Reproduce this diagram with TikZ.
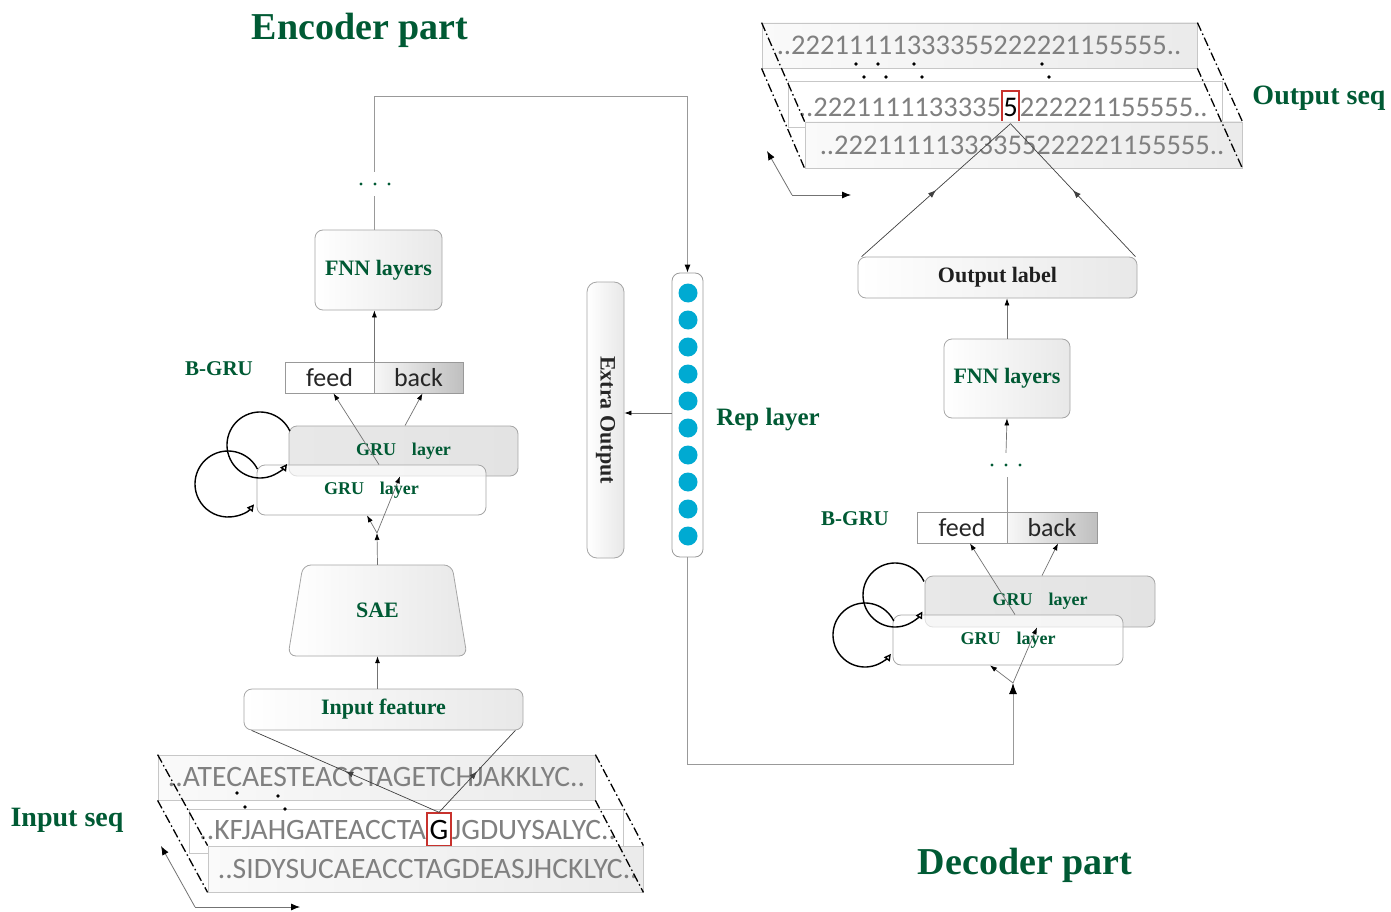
\documentclass[tikz,border=0pt]{standalone}
\usepackage{fontspec}
\setmainfont{Liberation Serif}
\newfontfamily\calfont{Carlito}
\usetikzlibrary{arrows.meta,decorations.markings,calc}
\definecolor{dgreen}{RGB}{0,90,52}
\definecolor{cyanball}{RGB}{0,170,210}
\definecolor{hired}{RGB}{200,50,45}
\begin{document}
\begin{tikzpicture}[x=1pt,y=-1pt,
 rbox/.style={draw=black!35, line width=0.8pt, rounded corners=8pt, left color=white, right color=black!9, inner sep=0pt},
 lbl/.style={font=\bfseries\fontsize{22}{24}\selectfont, text=dgreen},
 grut/.style={font=\bfseries\fontsize{18}{20}\selectfont, text=dgreen},
 seqbox/.style={draw=black!22, line width=0.8pt, left color=black!2, right color=black!8, inner sep=0pt},
 seqt/.style={font=\calfont\fontsize{28.5}{30}\selectfont, text=black!50, inner sep=0pt},
 seql/.style={font=\calfont\fontsize{29.6}{31}\selectfont, text=black!50, inner sep=0pt},
 hlbox/.style={draw=hired, line width=1.4pt, inner sep=0pt, text=black},
 ddline/.style={line width=1.3pt, dash pattern=on 9pt off 3pt on 1.5pt off 3pt},
 connarr/.style={draw=black!55, line width=0.7pt, -{Latex[length=7pt,width=5pt,color=black]}},
 gline/.style={draw=black!40, line width=0.9pt},
 gconn/.style={draw=black!40, line width=0.9pt, -{Latex[length=8pt,width=6pt,color=black]}},
 midarr/.style={draw=black!75, line width=0.7pt, postaction={decorate}, decoration={markings, mark=at position 0.5 with {\arrow{Latex[length=8pt,width=6pt]}}}},
 axarr/.style={draw=black!55, line width=0.8pt, -{Latex[length=9pt,width=7pt,color=black]}},
 loopc/.style={line width=1.4pt, -{Triangle[length=7pt,width=7pt,fill=white]}},
 fbbox/.style={draw=black!40, line width=0.8pt, minimum width=89pt, minimum height=31pt, font=\calfont\fontsize{26}{28}\selectfont, text=black!85, inner sep=0pt},
 dotn/.style={minimum width=40pt, minimum height=24pt, inner sep=0pt},
 ttl/.style={font=\bfseries\fontsize{38}{40}\selectfont, text=dgreen},
 sttl/.style={font=\bfseries\fontsize{28}{30}\selectfont, text=dgreen}
]
\fill[white] (0,0) rectangle (1391,912);
\useasboundingbox (0,0) rectangle (1391,912);

% titles
\node[ttl] (enctitle) at (360,30) {Encoder part};
\node[ttl] (dectitle) at (1025,865) {Decoder part};
\node[sttl] (inseq) at (67,820) {Input seq};
\node[sttl] (outseq) at (1319,98) {Output seq};
\node[lbl, font=\bfseries\fontsize{21}{23}\selectfont] (ebgru) at (219,369) {B-GRU};
\node[lbl, font=\bfseries\fontsize{21}{23}\selectfont] (dbgru) at (855,519) {B-GRU};
\node[lbl, font=\bfseries\fontsize{25}{27}\selectfont] (replbl) at (768,420) {Rep layer};

% ---------------- Encoder ----------------
\node[rbox, minimum width=127pt, minimum height=80pt, lbl] (efnn) at (378.5,270) {FNN layers};
\node[dotn] (edots) at (374,184) {};
\fill[dgreen] (361,184) circle (1.7pt) (375,184) circle (1.7pt) (389,184) circle (1.7pt);
\coordinate (etop) at (374,96);

\node[fbbox, fill=white] (efeed) at (329.5,377.5) {feed};
\node[fbbox, left color=black!3, right color=black!25] (eback) at (418.5,377.5) {back};

\node[rbox, left color=black!9, right color=black!11, minimum width=229pt, minimum height=50pt, grut] (egruB) at (403.5,451) {GRU\hspace{16pt}layer};
\node[draw=black!35, line width=0.8pt, rounded corners=8pt, fill=white, fill opacity=0.65, text opacity=1, minimum width=229pt, minimum height=50pt, grut] (egruF) at (371.5,490) {GRU\hspace{16pt}layer};
\coordinate (esplit) at (377,533);

\path[draw=black!35, line width=0.8pt, rounded corners=8pt, left color=white, right color=black!9] (303,565) -- (452,565) -- (467,656) -- (288,656) -- cycle;
\node[lbl, minimum width=149pt, minimum height=91pt] (sae) at (377.5,610.5) {SAE};

\node[rbox, minimum width=279pt, minimum height=41pt, lbl] (einf) at (383.5,709.5) {Input feature};

% input sequences
\node[seqbox, minimum width=437pt, minimum height=45pt] (r1) at (376.5,777.5) {};
\node[seql, anchor=west] (t1) at ([xshift=10pt]r1.west) {..ATECAESTEACCTAGETCHJAKKLYC..};
\node[draw=black!22, line width=0.8pt, fill=white, minimum width=434pt, minimum height=44pt, inner sep=0pt] (r2) at (406,831) {};
\node[hlbox, font=\calfont\fontsize{29.6}{31}\selectfont, minimum width=24pt, minimum height=33pt] (gbox) at (439,829.5) {G};
\node[seql, anchor=base east] (t2a) at (gbox.base west) {..KFJAHGATEACCTA};
\node[seql, anchor=base west] (t2b) at (gbox.base east) {JGDUYSALYC..};
\node[seqbox, minimum width=435pt, minimum height=46pt] (r3) at (425.5,869) {};
\node[seql, anchor=west] (t3) at ([xshift=10pt]r3.west) {..SIDYSUCAEACCTAGDEASJHCKLYC..};
\draw[ddline] (r1.north west) -- (r3.north west);
\draw[ddline] (r1.south west) -- (r3.south west);
\draw[ddline] (r1.north east) -- (r3.north east);
\draw[ddline] (r1.south east) -- (r3.south east);
\fill (237,793) circle (1.8pt) (278,796) circle (1.8pt) (245,807) circle (1.8pt) (285,809) circle (1.8pt);

\coordinate (ax1) at (195,907);
\coordinate (ax1u) at (161,846);
\coordinate (ax1r) at (300,907);
\draw[axarr] (ax1) -- (ax1u);
\draw[axarr] (ax1) -- (ax1r);

% encoder connectors
\draw[midarr] (gbox.north) -- ([xshift=8pt]einf.south west);
\draw[midarr] (gbox.north) -- ([xshift=-8pt]einf.south east);
\draw[connarr] (sae.south |- einf.north) -- (sae.south);
\draw[connarr] (sae.north) -- (esplit);
\draw[connarr] (esplit) -- ([xshift=-4.5pt]egruF.south);
\draw[connarr] (esplit) -- ([xshift=-3.5pt]egruB.south);
\draw[connarr] ([xshift=7.5pt]egruF.north) -- ([xshift=4pt]efeed.south);
\draw[connarr] ([xshift=1.5pt]egruB.north) -- ([xshift=4pt]eback.south);
\draw[connarr] (efeed.north east) -- (efeed.north east |- efnn.south);
\draw[gline] (edots.south |- efnn.north) -- (edots.south);

\draw[loopc] (260,445) ++(-25:33) arc[start angle=-25, end angle=-325, radius=33];
\draw[loopc] (228,484) ++(-27:33) arc[start angle=-27, end angle=-322, radius=33];

% ---------------- Middle ----------------
\node[draw=black!40, line width=0.8pt, rounded corners=8pt, fill=white, minimum width=31pt, minimum height=284pt, inner sep=0pt] (rep) at (687.5,415) {};
\foreach \i in {0,...,9} \fill[cyanball] (688,293+27*\i) circle (9.5pt);
\node[rbox, rounded corners=10pt, minimum width=37pt, minimum height=276pt] (extra) at (605.5,420) {};
\node[lbl, text=black!85, rotate=-90] (extxt) at (extra) {Extra Output};

\draw[gconn] (edots.north) -- (etop) -| (rep.north);
\draw[connarr] ([yshift=2pt]rep.west) -- ([yshift=2pt]rep.west -| extra.east);

% ---------------- Decoder ----------------
\node[rbox, minimum width=279pt, minimum height=41pt, lbl, text=black!88] (olab) at (997.5,277.5) {Output label};
\node[rbox, minimum width=126pt, minimum height=79pt, lbl] (dfnn) at (1007,378.5) {FNN layers};
\node[dotn] (ddots) at (1006,465) {};
\fill[dgreen] (992,465) circle (1.7pt) (1006,465) circle (1.7pt) (1020,465) circle (1.7pt);
\node[fbbox, fill=white, minimum width=90pt] (dfeed) at (962,527.5) {feed};
\node[fbbox, minimum width=90pt, left color=black!3, right color=black!25] (dback) at (1052,527.5) {back};
\node[rbox, left color=black!9, right color=black!11, minimum width=230pt, minimum height=51pt, grut] (dgruB) at (1040,601.5) {GRU\hspace{16pt}layer};
\node[draw=black!35, line width=0.8pt, rounded corners=8pt, fill=white, fill opacity=0.65, text opacity=1, minimum width=230pt, minimum height=50pt, grut] (dgruF) at (1008,640) {GRU\hspace{16pt}layer};
\coordinate (dsplit) at (1013,683);

\draw[gline, -{Latex[length=11pt,width=8pt,color=black]}] (rep.south) -- ++(0,207) -| (dsplit);
\draw[connarr] (dsplit) -- ([xshift=-18pt]dgruF.south);
\draw[connarr] (dsplit) -- ([xshift=-3pt]dgruB.south);
\draw[connarr] ([xshift=7pt]dgruF.north) -- ([xshift=8pt]dfeed.south);
\draw[connarr] ([xshift=2pt]dgruB.north) -- ([xshift=6pt]dback.south);
\draw[gline] (dfeed.north east) -- (dfeed.north east |- ddots.south);
\draw[connarr] (ddots.north) -- (dfnn.south);
\draw[connarr] (dfnn.north) -- (dfnn.north |- olab.south);

\draw[loopc] (895,595) ++(-25:32) arc[start angle=-25, end angle=-329, radius=32];
\draw[loopc] (865,635) ++(-26:32) arc[start angle=-26, end angle=-324, radius=32];

% output sequences
\node[seqbox, minimum width=435pt, minimum height=45pt] (o1) at (979.5,45.5) {};
\node[seqt, anchor=west] (u1) at ([xshift=15pt]o1.west) {..22211111333355222221155555..};
\node[draw=black!22, line width=0.8pt, fill=white, minimum width=434pt, minimum height=46pt, inner sep=0pt] (o2) at (1005,104) {};
\node[hlbox, font=\calfont\fontsize{28.5}{30}\selectfont, minimum width=17pt, minimum height=32pt] (obox) at (1010.5,107) {5};
\node[seqt, anchor=base east] (u2a) at (obox.base west) {..2221111133335};
\node[seqt, anchor=base west] (u2b) at (obox.base east) {222221155555..};
\node[seqbox, minimum width=437pt, minimum height=46pt] (o3) at (1023.5,145) {};
\node[seqt, anchor=west] (u3) at ([xshift=15pt]o3.west) {..22211111333355222221155555..};
\draw[ddline] (o1.north west) -- (o3.north west);
\draw[ddline] (o1.south west) -- (o3.south west);
\draw[ddline] (o1.north east) -- (o3.north east);
\draw[ddline] (o1.south east) -- (o3.south east);
\fill (856,64) circle (1.8pt) (878,64) circle (1.8pt) (914,64) circle (1.8pt) (1042,64) circle (1.8pt)
      (864,77) circle (1.8pt) (886,77) circle (1.8pt) (922,77) circle (1.8pt) (1049,77) circle (1.8pt);

\draw[midarr] ([xshift=4pt]olab.north west) -- (obox.south);
\draw[midarr] ([xshift=-2pt]olab.north east) -- (obox.south);

\coordinate (ax2) at (792,195);
\coordinate (ax2u) at (767,151);
\coordinate (ax2r) at (851,195);
\draw[axarr] (ax2) -- (ax2u);
\draw[axarr] (ax2) -- (ax2r);
\end{tikzpicture}
\end{document}
